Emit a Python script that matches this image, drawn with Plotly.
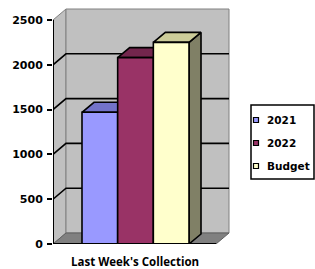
import plotly.graph_objects as go

# ---- data ----
series = ["2021", "2022", "Budget"]
values = [1470, 2080, 2250]
front_colors = ["#9999FF", "#993366", "#FFFFCC"]
top_colors = ["#7373C9", "#73264D", "#CCCC99"]
side_colors = ["#5C5CA0", "#5C1F3D", "#808066"]
y_ticks = [0, 500, 1000, 1500, 2000, 2500]
category = "Last Week's Collection"

# ---- geometry (axis units) ----
W, H = 315, 269
ML, MB, MT = 53, 25, 7
px_per_unit = 224 / 2500.0
XMAX = 178
PH = H - MB - MT
YMAX = PH / px_per_unit
wall_dx = 13
wall_dy = 11 / px_per_unit
bar_dx = 12
bar_dy = 10 / px_per_unit
bar_x0 = 29
bar_w = 35.67
floor_right = 163
wall_right = floor_right + wall_dx

fig = go.Figure()


def poly(xs, ys, fill, line_color, line_width):
    fig.add_trace(go.Scatter(
        x=xs + [xs[0]], y=ys + [ys[0]], mode="lines", fill="toself",
        fillcolor=fill, line=dict(color=line_color, width=line_width),
        hoverinfo="skip", showlegend=False))


def line(xs, ys, color, width):
    fig.add_trace(go.Scatter(x=xs, y=ys, mode="lines",
                             line=dict(color=color, width=width),
                             hoverinfo="skip", showlegend=False))


top = y_ticks[-1]
# left wall
poly([0, wall_dx, wall_dx, 0], [0, wall_dy, top + wall_dy, top], "#C0C0C0", "#808080", 1)
# back wall
poly([wall_dx, wall_right, wall_right, wall_dx],
     [wall_dy, wall_dy, top + wall_dy, top + wall_dy], "#C0C0C0", "#808080", 1)
# floor
poly([0, floor_right, wall_right, wall_dx], [0, 0, wall_dy, wall_dy], "#808080", "#606060", 1)

# gridlines on walls
for v in y_ticks[1:-1]:
    line([0, wall_dx, wall_right], [v, v + wall_dy, v + wall_dy], "black", 1.6)

# bars
for i, v in enumerate(values):
    x0 = bar_x0 + i * bar_w
    x1 = x0 + bar_w
    poly([x1, x1 + bar_dx, x1 + bar_dx, x1], [0, bar_dy, v + bar_dy, v],
         side_colors[i], "black", 1.6)
    poly([x0, x0 + bar_dx, x1 + bar_dx, x1], [v, v + bar_dy, v + bar_dy, v],
         top_colors[i], "black", 1.6)
    poly([x0, x1, x1, x0], [0, 0, v, v], front_colors[i], "black", 1.6)

# axis lines
line([0, 0], [0, top], "black", 2)
line([0, floor_right], [0, 0], "black", 2)

# ---- legend (drawn in paper coordinates) ----
def px_x(p):
    return (p - ML) / XMAX


def px_y(p):
    return (H - MB - p) / PH


shapes = [dict(type="rect", xref="paper", yref="paper",
               x0=px_x(251), x1=px_x(314), y0=px_y(179), y1=px_y(105),
               line=dict(color="black", width=1.5), fillcolor="white")]
annotations = []
legend_rows = [120, 143, 166]
for i, s in enumerate(series):
    cy = legend_rows[i]
    shapes.append(dict(type="rect", xref="paper", yref="paper",
                       x0=px_x(253.5), x1=px_x(258.5), y0=px_y(cy + 2.5), y1=px_y(cy - 2.5),
                       line=dict(color="black", width=1.2), fillcolor=front_colors[i]))
    annotations.append(dict(text=s, xref="paper", yref="paper", x=px_x(265), y=px_y(cy),
                            xanchor="left", yanchor="middle", showarrow=False,
                            font=dict(family="DejaVu Sans", size=10.5, color="black",
                                      weight="bold")))

annotations.append(dict(text=category, xref="paper", yref="paper",
                        x=px_x(135), y=px_y(261), xanchor="center", yanchor="middle",
                        showarrow=False, borderpad=0,
                        font=dict(family="Open Sans", size=11.5, color="black", weight="bold")))

fig.update_layout(
    width=W, height=H,
    margin=dict(l=ML, r=W - ML - XMAX, t=MT, b=MB, autoexpand=False),
    paper_bgcolor="white", plot_bgcolor="white",
    showlegend=False,
    xaxis=dict(range=[0, XMAX], showgrid=False, zeroline=False, showticklabels=False,
               ticks="", showline=False, fixedrange=True),
    yaxis=dict(range=[0, YMAX], showgrid=False, zeroline=False, showline=False,
               tickvals=y_ticks, ticks="outside", ticklen=5, tickwidth=2,
               tickcolor="black", ticklabelstandoff=2,
               tickfont=dict(family="DejaVu Sans", size=11, color="black", weight="bold")),
    shapes=shapes,
    annotations=annotations,
)

fig.write_html("out.html", config={"displayModeBar": False},
               post_script="document.body.style.margin='0';document.body.style.overflow='hidden';")
